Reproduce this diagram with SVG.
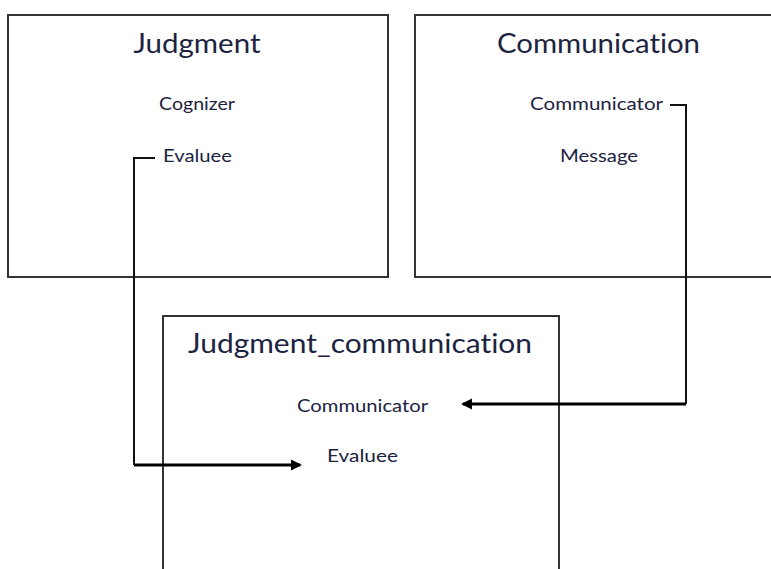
<svg xmlns="http://www.w3.org/2000/svg" width="771" height="569" viewBox="0 0 771 569">
<defs>
<style>
.box{fill:#fff;stroke:#333;stroke-width:2}
.t{font-family:Lato,"Open Sans",sans-serif;fill:#1c2340;text-anchor:middle;font-variant-ligatures:none}
.title{font-size:26px}
.lab{font-size:17px}
.c{fill:none;stroke:#111;stroke-width:2}
.ca{fill:none;stroke:#000;stroke-width:3}
</style>
<marker id="ah" markerWidth="12" markerHeight="12" refX="9" refY="6" orient="auto" markerUnits="userSpaceOnUse">
<path d="M0,0.5 L11,6 L0,11.5 z" fill="#000"/>
</marker>
</defs>
<g id="judgment">
<rect class="box" x="8" y="15" width="380" height="262"/>
<text class="t title" x="197" y="53" textLength="127" lengthAdjust="spacingAndGlyphs">Judgment</text>
<text class="t lab" x="197" y="110" textLength="76" lengthAdjust="spacingAndGlyphs">Cognizer</text>
<text class="t lab" x="197.5" y="162" textLength="69" lengthAdjust="spacingAndGlyphs">Evaluee</text>
</g>
<g id="communication">
<rect class="box" x="415" y="15" width="370" height="262"/>
<text class="t title" x="598.5" y="53" textLength="203" lengthAdjust="spacingAndGlyphs">Communication</text>
<text class="t lab" x="596.5" y="110" textLength="133" lengthAdjust="spacingAndGlyphs">Communicator</text>
<text class="t lab" x="599" y="162" textLength="78" lengthAdjust="spacingAndGlyphs">Message</text>
</g>
<g id="judgment_communication">
<rect class="box" x="163" y="316" width="396" height="270"/>
<text class="t title" x="360" y="353" textLength="344" lengthAdjust="spacingAndGlyphs">Judgment_communication</text>
<text class="t lab" x="362.5" y="412" textLength="131" lengthAdjust="spacingAndGlyphs">Communicator</text>
<text class="t lab" x="362.5" y="462" textLength="71" lengthAdjust="spacingAndGlyphs">Evaluee</text>
</g>
<g id="connectors">
<polyline class="c" points="155,158 134,158 134,465"/>
<line class="ca" x1="134" y1="465" x2="300" y2="465" marker-end="url(#ah)"/>
<polyline class="c" points="670,105 686,105 686,404"/>
<line class="ca" x1="686" y1="404" x2="463" y2="404" marker-end="url(#ah)"/>
</g>
</svg>
